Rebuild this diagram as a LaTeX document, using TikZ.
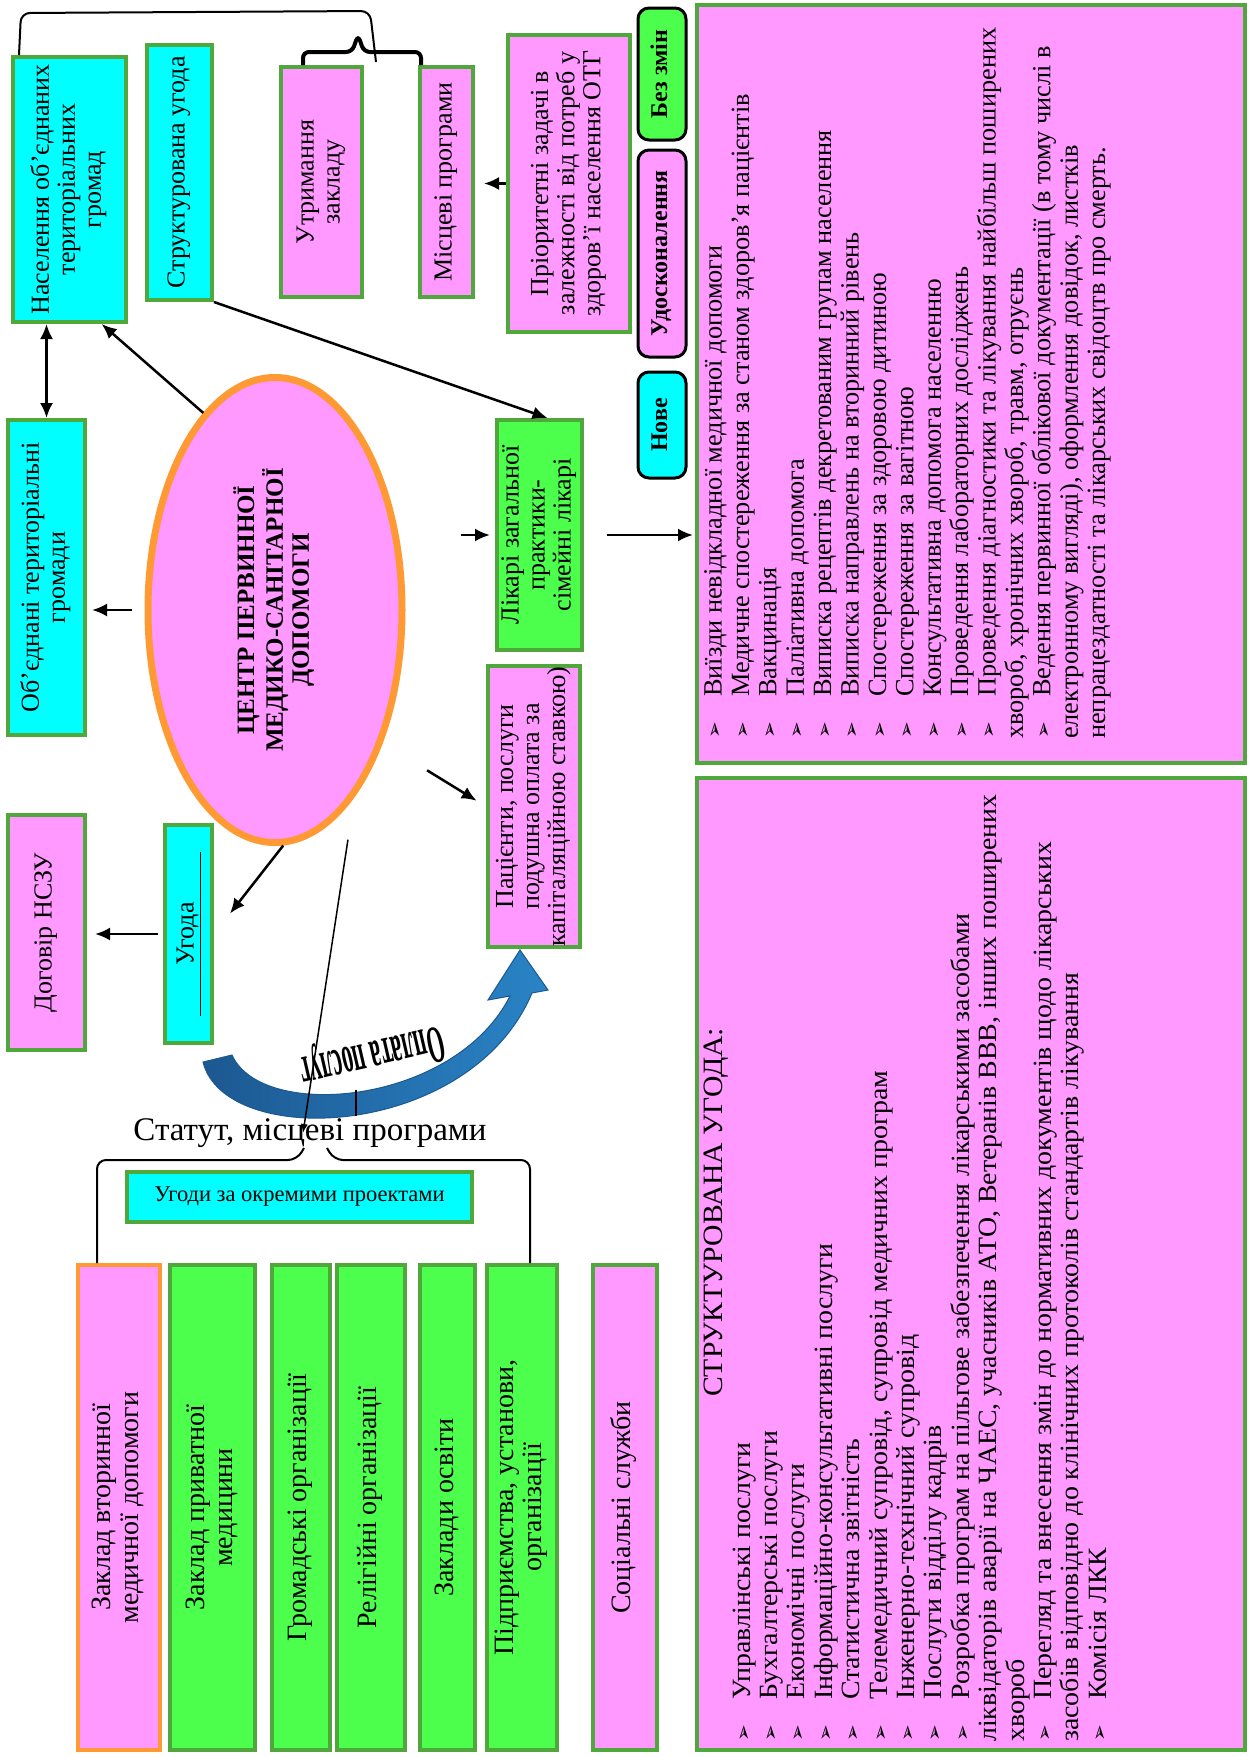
\documentclass[tikz,border=0pt]{standalone}
\usepackage{fontspec}
\setmainfont{Liberation Serif}
\newfontfamily\symbfont{DejaVu Sans}
\newfontfamily\widefont[FakeStretch=1.06]{Liberation Serif}
\usepackage{graphicx}
\usetikzlibrary{positioning,calc,arrows.meta,shapes.geometric}
\definecolor{boxcyan}{RGB}{0,255,255}
\definecolor{boxpink}{RGB}{255,153,255}
\definecolor{boxgreen}{RGB}{77,255,77}
\definecolor{bordergreen}{RGB}{80,168,60}
\definecolor{ellorange}{RGB}{255,153,51}
\definecolor{arcdark}{RGB}{28,88,145}
\definecolor{arclight}{RGB}{42,132,198}
\newcommand{\boxfont}{\fontsize{26}{26}\selectfont}
\newcommand{\lowfont}{\fontsize{28}{28}\selectfont}
\newcommand{\listfont}{\fontsize{26.3}{27.4}\selectfont}
\newcommand{\vtext}[1]{\rotatebox{90}{\begin{tabular}{@{}c@{}}#1\end{tabular}}}
\newcommand{\bul}{\makebox[42pt][l]{\symbfont\fontsize{20}{20}\selectfont ➢}}

\begin{document}
\begin{tikzpicture}[x=1pt, y=-1pt, cbox/.style={draw=bordergreen, line width=4pt, fill=boxcyan, inner sep=0pt, font=\boxfont}, pbox/.style={cbox, fill=boxpink}, gbox/.style={cbox, fill=boxgreen}, lowbox/.style={gbox, minimum height=485pt, font=\lowfont}, tag/.style={draw=black, line width=3pt, rounded corners=11pt, inner sep=0pt, font=\bfseries\fontsize{24}{25}\selectfont}, arr/.style={-{Latex[length=15pt,width=13pt]}, line width=2.5pt}, dblarr/.style={{Latex[length=15pt,width=13pt]}-{Latex[length=15pt,width=13pt]}, line width=2.5pt}, thinarr/.style={-{Latex[length=9pt,width=7pt]}, line width=1.5pt}, bracket/.style={line width=2pt, rounded corners=9pt}, brace/.style={line width=4pt, rounded corners=6pt}, listtext/.style={rotate=90, anchor=north west, inner sep=0pt, align=left, font=\listfont}]
\fill[white] (0,0) rectangle (1251,1757);
\useasboundingbox (0,0) rectangle (1251,1757);

% top row
\node[cbox, minimum width=113pt, minimum height=265pt] (nas) at (69.5,189.5) {\vtext{Населення об’єднаних\\ територіальних\\ громад}};
\node[cbox, minimum width=65pt, minimum height=255pt] (str) at (179.5,172.5) {\vtext{Структурована угода}};
\node[pbox, minimum width=81pt, minimum height=230pt] (utr) at (321.5,182) {\vtext{Утримання\\ закладу}};
\node[pbox, minimum width=53pt, minimum height=230pt] (mis) at (446.5,182) {\vtext{Місцеві програми}};
\node[pbox, minimum width=122pt, minimum height=297pt] (pri) at (569,183.5) {\vtext{Пріоритетні задачі в\\ залежності від потреб у\\ здоров’ї населення ОТГ}};
\node[tag, fill=boxgreen, minimum width=48pt, minimum height=132pt] (bez) at (662,74) {\vtext{Без змін}};
\node[tag, fill=boxpink, minimum width=48pt, minimum height=207pt] (udo) at (662,253.5) {\vtext{Удосконалення}};
\node[tag, fill=boxcyan, minimum width=48pt, minimum height=106pt] (nov) at (662,425) {\vtext{Нове}};

% lists
\node[pbox, minimum width=548pt, minimum height=758pt] (lst1) at (971,384) {};
\node[pbox, minimum width=548pt, minimum height=972pt] (lst2) at (971,1264) {};
\node[listtext] (lst1t) at ($(lst1.south west)+(9,-26)$) {\bul Виїзди невідкладної медичної допомоги\\ \bul Медичне спостереження за станом здоров’я пацієнтів\\ \bul Вакцинація\\ \bul Паліативна допомога\\ \bul Виписка рецептів декретованим групам населення\\ \bul Виписка направлень на вторинний рівень\\ \bul Спостереження за здоровою дитиною\\ \bul Спостереження за вагітною\\ \bul Консультативна допомога населенню\\ \bul Проведення лабораторних досліджень\\ \bul Проведення діагностики та лікування найбільш поширених\\ хвороб, хронічних хвороб, травм, отруєнь\\ \bul Ведення первинної облікової документації (в тому числі в\\ електронному вигляді), оформлення довідок, листків\\ непрацездатності та лікарських свідоцтв про смерть.};
\node[listtext, font=\widefont\listfont] (lst2t) at ($(lst2.south west)+(9,-10)$) {\hspace*{345pt}{\fontsize{28}{27.4}\selectfont СТРУКТУРОВАНА УГОДА:}\\ \bul Управлінські послуги\\ \bul Бухгалтерські послуги\\ \bul Економічні послуги\\ \bul Інформаційно-консультативні послуги\\ \bul Статистична звітність\\ \bul Телемедичний супровід, супровід медичних програм\\ \bul Інженерно-технічний супровід\\ \bul Послуги відділу кадрів\\ \bul Розробка програм на пільгове забезпечення лікарськими засобами\\ ліквідаторів аварії на ЧАЕС, учасників АТО, Ветеранів ВВВ, інших поширених\\ хвороб\\ \bul Перегляд та внесення змін до нормативних документів щодо лікарських\\ засобів відповідно до клінічних протоколів стандартів лікування\\ \bul Комісія ЛКК};

% middle
\node[cbox, minimum width=77pt, minimum height=315pt] (ob) at (46.5,577.5) {\vtext{Об’єднані територіальні\\ громади}};
\node[ellipse, draw=ellorange, line width=7pt, fill=boxpink, minimum width=254pt, minimum height=465pt, inner sep=0pt, font=\bfseries\fontsize{25}{26}\selectfont] (ell) at (275,610) {\vtext{ЦЕНТР ПЕРВИННОЇ\\ МЕДИКО-САНІТАРНОЇ\\ ДОПОМОГИ}};
\node[gbox, minimum width=85pt, minimum height=230pt] (lik) at (539.5,535) {\vtext{Лікарі загальної\\ практики-\\ сімейні лікарі}};
\node[pbox, minimum width=92pt, minimum height=257pt] (pac) at (534,806.5) {\vtext{Пацієнти, послуги\\ подушна оплата за\\ капіталяційною ставкою)}};
\node[cbox, minimum width=47pt, minimum height=218pt] (ugo) at (188.5,934) {\vtext{\underline{\hspace*{50pt}Угода\hspace*{50pt}}}};
\node[pbox, minimum width=77pt, minimum height=235pt] (dog) at (46.5,932.5) {\vtext{Договір НСЗУ}};

% bottom
\node[font=\fontsize{33}{34}\selectfont, inner sep=0pt] (statut) at (310,1133) {Статут, місцеві програми};
\node[cbox, minimum width=345pt, minimum height=50pt, font=\fontsize{22.5}{24}\selectfont] (ugodi) at (299.5,1197) {Угоди за окремими проектами};
\node[lowbox, fill=boxpink, draw=ellorange, minimum width=82pt] (zak2) at (119,1507.5) {\vtext{Заклад вторинної\\ медичної допомоги}};
\node[lowbox, minimum width=85pt] (zakp) at (212.5,1507.5) {\vtext{Заклад приватної\\ медицини}};
\node[lowbox, minimum width=58pt] (grom) at (301,1507.5) {\vtext{Громадські організації}};
\node[lowbox, minimum width=68pt] (rel) at (371,1507.5) {\vtext{Релігійні організації}};
\node[lowbox, minimum width=55pt] (osv) at (447.5,1507.5) {\vtext{Заклади освіти}};
\node[lowbox, minimum width=70pt] (pidp) at (522,1507.5) {\vtext{Підприємства, установи,\\ організації}};
\node[lowbox, fill=boxpink, minimum width=64pt] (soc) at (625,1507.5) {\vtext{Соціальні служби}};

% brackets
\coordinate (brk) at (376,62);
\draw[bracket] ([xshift=8pt]nas.north west) -- (21,13) -- (370,11) -- (brk);
\draw[brace] ([xshift=24pt]utr.north west) |- (352,52) -- (358,35) -- (364,52) -| ([xshift=3pt]mis.north west);
\coordinate (bl) at (304,1148);
\coordinate (br) at (327,1148);
\draw[bracket] ([xshift=21pt]zak2.north west) |- (297,1160) -- (bl);
\draw[bracket] (br) -- (334,1160) -| ([xshift=-29pt]pidp.north east);

% arrows
\draw[arr, shorten >=9pt] (pri.west) -- (pri.west -| mis.east);
\draw[dblarr] (nas.south -| ob.north) -- (ob.north);
\draw[arr] (ell.110) -- ($(nas.south)!0.55!(nas.south east)$);
\draw[arr] (str.south east) -- ([xshift=8pt]lik.north);
\draw[arr, shorten <=13pt, shorten >=5pt] (ell.west) -- (ell.west -| ob.east);
\draw[arr, shorten <=55pt, shorten >=5pt] (lik.west -| ell.east) -- (lik.west);
\draw[arr, shorten <=23pt, shorten >=2pt] (lik.east) -- (lik.east -| lst1.west);
\draw[arr, shorten <=52pt, shorten >=11pt] (ell.-51) -- (pac.west);
\draw[arr, shorten >=26pt] (ell.-88) -- (ugo.east);
\draw[arr, shorten <=5pt, shorten >=8pt] (ugo.west) -- (ugo.west -| dog.east);

% payment arc
\shade[left color=arcdark, right color=arclight, draw=arcdark, line width=1pt] (203,1062) .. controls (225,1150) and (470,1140) .. (532,993) -- (548,990) -- (520,950) -- (488,1000) -- (510,996) .. controls (455,1105) and (262,1122) .. (232,1055) -- cycle;
\node[rotate=193, font=\bfseries\fontsize{23}{23}\selectfont, inner sep=0pt] (opl) at (372,1054) {\scalebox{0.95}[2.3]{Оплата послуг}};
\coordinate (tk1) at (356,1090);
\coordinate (tk2) at (356,1116);
\draw[line width=2.5pt] (tk1) -- (tk2);
\draw[thinarr, shorten <=43pt] (ell.-67) -- ([xshift=-7pt]statut.center);
\end{tikzpicture}
\end{document}
